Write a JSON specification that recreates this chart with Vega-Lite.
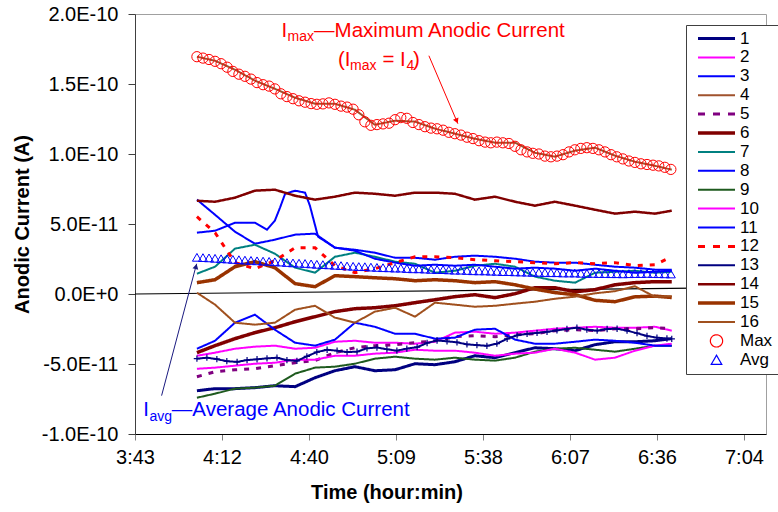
{
"$schema":"https://vega.github.io/schema/vega-lite/v6.json",
"width":631,"height":420,
"autosize":{"type":"none"},
"padding":{"left":135,"top":14,"right":12,"bottom":78},
"background":"#ffffff",
"datasets":{
"main":[
{"s":"1","t":243.7,"c":-69.1},{"s":"1","t":249.7,"c":-67.6},{"s":"1","t":256.3,"c":-67.6},{"s":"1","t":262.9,"c":-66.9},{"s":"1","t":269.5,"c":-65.5},{"s":"1","t":276.2,"c":-66.2},{"s":"1","t":282.8,"c":-59.8},{"s":"1","t":289.4,"c":-54.8},{"s":"1","t":296.0,"c":-51.9},{"s":"1","t":302.6,"c":-54.8},{"s":"1","t":309.3,"c":-54.1},{"s":"1","t":315.9,"c":-49.8},{"s":"1","t":322.5,"c":-50.5},{"s":"1","t":329.1,"c":-48.4},{"s":"1","t":335.7,"c":-44.1},{"s":"1","t":342.4,"c":-45.5},{"s":"1","t":349.0,"c":-41.9},{"s":"1","t":355.6,"c":-38.4},{"s":"1","t":362.2,"c":-39.1},{"s":"1","t":368.9,"c":-40.5},{"s":"1","t":375.5,"c":-36.2},{"s":"1","t":382.1,"c":-34.1},{"s":"1","t":388.7,"c":-34.1},{"s":"1","t":395.3,"c":-33.4},{"s":"1","t":400.9,"c":-31.9},
{"s":"2","t":243.7,"c":-44.1},{"s":"2","t":249.7,"c":-41.9},{"s":"2","t":256.3,"c":-39.1},{"s":"2","t":262.9,"c":-37.6},{"s":"2","t":269.5,"c":-36.9},{"s":"2","t":276.2,"c":-39.1},{"s":"2","t":282.8,"c":-38.4},{"s":"2","t":289.4,"c":-34.1},{"s":"2","t":296.0,"c":-33.4},{"s":"2","t":302.6,"c":-34.8},{"s":"2","t":309.3,"c":-34.8},{"s":"2","t":315.9,"c":-35.5},{"s":"2","t":322.5,"c":-34.1},{"s":"2","t":329.1,"c":-27.6},{"s":"2","t":335.7,"c":-26.9},{"s":"2","t":342.4,"c":-28.4},{"s":"2","t":349.0,"c":-27.6},{"s":"2","t":355.6,"c":-26.2},{"s":"2","t":362.2,"c":-24.8},{"s":"2","t":368.9,"c":-24.1},{"s":"2","t":375.5,"c":-23.4},{"s":"2","t":382.1,"c":-24.1},{"s":"2","t":388.7,"c":-24.1},{"s":"2","t":395.3,"c":-23.4},{"s":"2","t":400.9,"c":-26.2},
{"s":"3","t":243.7,"c":67.4},{"s":"3","t":249.7,"c":56.6},{"s":"3","t":256.3,"c":44.5},{"s":"3","t":262.9,"c":35.9},{"s":"3","t":269.5,"c":38.8},{"s":"3","t":276.2,"c":42.4},{"s":"3","t":282.8,"c":43.1},{"s":"3","t":289.4,"c":33.1},{"s":"3","t":296.0,"c":31.6},{"s":"3","t":302.6,"c":29.5},{"s":"3","t":309.3,"c":25.9},{"s":"3","t":315.9,"c":25.9},{"s":"3","t":322.5,"c":24.5},{"s":"3","t":329.1,"c":26.6},{"s":"3","t":335.7,"c":27.4},{"s":"3","t":342.4,"c":26.6},{"s":"3","t":349.0,"c":25.2},{"s":"3","t":355.6,"c":23.1},{"s":"3","t":362.2,"c":22.4},{"s":"3","t":368.9,"c":22.4},{"s":"3","t":375.5,"c":20.9},{"s":"3","t":382.1,"c":19.5},{"s":"3","t":388.7,"c":18.8},{"s":"3","t":395.3,"c":17.4},{"s":"3","t":400.9,"c":17.4},
{"s":"4","t":243.7,"c":169.5},{"s":"4","t":249.7,"c":166.6},{"s":"4","t":256.3,"c":160.2},{"s":"4","t":262.9,"c":152.4},{"s":"4","t":269.5,"c":146.6},{"s":"4","t":276.2,"c":140.2},{"s":"4","t":282.8,"c":135.9},{"s":"4","t":289.4,"c":135.9},{"s":"4","t":296.0,"c":131.6},{"s":"4","t":302.6,"c":120.9},{"s":"4","t":309.3,"c":123.8},{"s":"4","t":315.9,"c":123.1},{"s":"4","t":322.5,"c":118.1},{"s":"4","t":329.1,"c":114.5},{"s":"4","t":335.7,"c":110.9},{"s":"4","t":342.4,"c":108.1},{"s":"4","t":349.0,"c":108.1},{"s":"4","t":355.6,"c":100.9},{"s":"4","t":362.2,"c":98.1},{"s":"4","t":368.9,"c":102.4},{"s":"4","t":375.5,"c":104.5},{"s":"4","t":382.1,"c":98.8},{"s":"4","t":388.7,"c":94.5},{"s":"4","t":395.3,"c":91.6},{"s":"4","t":400.9,"c":88.8},
{"s":"5","t":243.7,"c":-59.1},{"s":"5","t":249.7,"c":-55.5},{"s":"5","t":256.3,"c":-54.1},{"s":"5","t":262.9,"c":-53.4},{"s":"5","t":269.5,"c":-51.2},{"s":"5","t":276.2,"c":-49.1},{"s":"5","t":282.8,"c":-47.6},{"s":"5","t":289.4,"c":-41.9},{"s":"5","t":296.0,"c":-38.4},{"s":"5","t":302.6,"c":-36.9},{"s":"5","t":309.3,"c":-36.2},{"s":"5","t":315.9,"c":-34.8},{"s":"5","t":322.5,"c":-33.4},{"s":"5","t":329.1,"c":-30.5},{"s":"5","t":335.7,"c":-29.8},{"s":"5","t":342.4,"c":-30.5},{"s":"5","t":349.0,"c":-29.1},{"s":"5","t":355.6,"c":-28.4},{"s":"5","t":362.2,"c":-26.2},{"s":"5","t":368.9,"c":-25.5},{"s":"5","t":375.5,"c":-26.2},{"s":"5","t":382.1,"c":-24.8},{"s":"5","t":388.7,"c":-24.8},{"s":"5","t":395.3,"c":-24.1},{"s":"5","t":400.9,"c":-24.8},
{"s":"6","t":243.7,"c":-41.9},{"s":"6","t":249.7,"c":-36.9},{"s":"6","t":256.3,"c":-31.9},{"s":"6","t":262.9,"c":-27.6},{"s":"6","t":269.5,"c":-24.1},{"s":"6","t":276.2,"c":-19.8},{"s":"6","t":282.8,"c":-16.2},{"s":"6","t":289.4,"c":-12.6},{"s":"6","t":296.0,"c":-10.5},{"s":"6","t":302.6,"c":-9.8},{"s":"6","t":309.3,"c":-8.4},{"s":"6","t":315.9,"c":-6.2},{"s":"6","t":322.5,"c":-4.1},{"s":"6","t":329.1,"c":-1.9},{"s":"6","t":335.7,"c":-0.5},{"s":"6","t":342.4,"c":-2.6},{"s":"6","t":349.0,"c":0.2},{"s":"6","t":355.6,"c":4.5},{"s":"6","t":362.2,"c":4.5},{"s":"6","t":368.9,"c":1.6},{"s":"6","t":375.5,"c":3.1},{"s":"6","t":382.1,"c":6.6},{"s":"6","t":388.7,"c":8.1},{"s":"6","t":395.3,"c":8.8},{"s":"6","t":400.9,"c":8.8},
{"s":"7","t":243.7,"c":14.5},{"s":"7","t":249.7,"c":19.5},{"s":"7","t":256.3,"c":32.4},{"s":"7","t":262.9,"c":35.2},{"s":"7","t":269.5,"c":28.8},{"s":"7","t":276.2,"c":18.8},{"s":"7","t":282.8,"c":15.2},{"s":"7","t":289.4,"c":26.6},{"s":"7","t":296.0,"c":29.5},{"s":"7","t":302.6,"c":26.6},{"s":"7","t":309.3,"c":23.1},{"s":"7","t":315.9,"c":21.6},{"s":"7","t":322.5,"c":15.2},{"s":"7","t":329.1,"c":16.6},{"s":"7","t":335.7,"c":20.2},{"s":"7","t":342.4,"c":21.6},{"s":"7","t":349.0,"c":19.5},{"s":"7","t":355.6,"c":12.4},{"s":"7","t":362.2,"c":9.5},{"s":"7","t":368.9,"c":8.1},{"s":"7","t":375.5,"c":15.2},{"s":"7","t":382.1,"c":15.9},{"s":"7","t":388.7,"c":16.6},{"s":"7","t":395.3,"c":15.2},{"s":"7","t":400.9,"c":15.9},
{"s":"8","t":243.7,"c":43.8},{"s":"8","t":249.7,"c":45.2},{"s":"8","t":256.3,"c":50.9},{"s":"8","t":262.9,"c":50.9},{"s":"8","t":266.9,"c":45.9},{"s":"8","t":269.5,"c":52.4},{"s":"8","t":271.2,"c":61.6},{"s":"8","t":272.9,"c":71.6},{"s":"8","t":276.2,"c":73.8},{"s":"8","t":279.5,"c":72.4},{"s":"8","t":281.1,"c":63.1},{"s":"8","t":283.8,"c":40.9},{"s":"8","t":289.4,"c":33.1},{"s":"8","t":296.0,"c":30.9},{"s":"8","t":302.6,"c":25.2},{"s":"8","t":309.3,"c":22.4},{"s":"8","t":315.9,"c":20.2},{"s":"8","t":322.5,"c":20.9},{"s":"8","t":329.1,"c":20.2},{"s":"8","t":335.7,"c":20.9},{"s":"8","t":342.4,"c":19.5},{"s":"8","t":349.0,"c":18.1},{"s":"8","t":355.6,"c":18.8},{"s":"8","t":362.2,"c":18.1},{"s":"8","t":368.9,"c":16.6},{"s":"8","t":375.5,"c":18.1},{"s":"8","t":382.1,"c":16.6},{"s":"8","t":388.7,"c":15.2},{"s":"8","t":395.3,"c":15.9},{"s":"8","t":400.9,"c":16.6},
{"s":"9","t":243.7,"c":-74.1},{"s":"9","t":249.7,"c":-71.2},{"s":"9","t":256.3,"c":-67.6},{"s":"9","t":262.9,"c":-66.9},{"s":"9","t":269.5,"c":-65.5},{"s":"9","t":276.2,"c":-56.9},{"s":"9","t":282.8,"c":-52.6},{"s":"9","t":289.4,"c":-51.9},{"s":"9","t":296.0,"c":-49.8},{"s":"9","t":302.6,"c":-46.2},{"s":"9","t":309.3,"c":-44.8},{"s":"9","t":315.9,"c":-46.2},{"s":"9","t":322.5,"c":-46.9},{"s":"9","t":329.1,"c":-45.5},{"s":"9","t":335.7,"c":-46.9},{"s":"9","t":342.4,"c":-47.6},{"s":"9","t":349.0,"c":-45.5},{"s":"9","t":355.6,"c":-41.2},{"s":"9","t":362.2,"c":-39.1},{"s":"9","t":368.9,"c":-38.4},{"s":"9","t":375.5,"c":-39.8},{"s":"9","t":382.1,"c":-41.2},{"s":"9","t":388.7,"c":-39.1},{"s":"9","t":395.3,"c":-36.9},{"s":"9","t":400.9,"c":-36.9},
{"s":"10","t":243.7,"c":-53.4},{"s":"10","t":249.7,"c":-52.6},{"s":"10","t":256.3,"c":-51.2},{"s":"10","t":262.9,"c":-49.8},{"s":"10","t":269.5,"c":-49.1},{"s":"10","t":276.2,"c":-46.9},{"s":"10","t":282.8,"c":-46.9},{"s":"10","t":289.4,"c":-44.1},{"s":"10","t":296.0,"c":-44.1},{"s":"10","t":302.6,"c":-42.6},{"s":"10","t":309.3,"c":-41.9},{"s":"10","t":315.9,"c":-39.8},{"s":"10","t":322.5,"c":-40.5},{"s":"10","t":329.1,"c":-40.5},{"s":"10","t":335.7,"c":-41.9},{"s":"10","t":342.4,"c":-44.1},{"s":"10","t":349.0,"c":-42.6},{"s":"10","t":355.6,"c":-41.9},{"s":"10","t":362.2,"c":-39.1},{"s":"10","t":368.9,"c":-41.9},{"s":"10","t":375.5,"c":-46.9},{"s":"10","t":382.1,"c":-45.5},{"s":"10","t":388.7,"c":-40.5},{"s":"10","t":395.3,"c":-36.9},{"s":"10","t":400.9,"c":-35.5},
{"s":"11","t":243.7,"c":-39.1},{"s":"11","t":249.7,"c":-33.4},{"s":"11","t":256.3,"c":-20.5},{"s":"11","t":262.9,"c":-14.8},{"s":"11","t":269.5,"c":-25.5},{"s":"11","t":276.2,"c":-34.8},{"s":"11","t":282.8,"c":-36.9},{"s":"11","t":289.4,"c":-32.6},{"s":"11","t":296.0,"c":-20.5},{"s":"11","t":302.6,"c":-23.4},{"s":"11","t":309.3,"c":-28.4},{"s":"11","t":315.9,"c":-28.4},{"s":"11","t":322.5,"c":-31.9},{"s":"11","t":329.1,"c":-31.2},{"s":"11","t":335.7,"c":-25.5},{"s":"11","t":342.4,"c":-24.8},{"s":"11","t":349.0,"c":-32.6},{"s":"11","t":355.6,"c":-35.5},{"s":"11","t":362.2,"c":-35.5},{"s":"11","t":368.9,"c":-34.1},{"s":"11","t":375.5,"c":-32.6},{"s":"11","t":382.1,"c":-33.4},{"s":"11","t":388.7,"c":-34.8},{"s":"11","t":395.3,"c":-36.9},{"s":"11","t":400.9,"c":-36.9},
{"s":"12","t":243.7,"c":55.2},{"s":"12","t":249.7,"c":43.8},{"s":"12","t":256.3,"c":22.4},{"s":"12","t":262.9,"c":18.1},{"s":"12","t":269.5,"c":23.8},{"s":"12","t":276.2,"c":33.1},{"s":"12","t":282.8,"c":33.1},{"s":"12","t":289.4,"c":20.2},{"s":"12","t":296.0,"c":15.2},{"s":"12","t":302.6,"c":18.1},{"s":"12","t":309.3,"c":22.4},{"s":"12","t":315.9,"c":26.6},{"s":"12","t":322.5,"c":26.6},{"s":"12","t":329.1,"c":25.9},{"s":"12","t":335.7,"c":24.5},{"s":"12","t":342.4,"c":23.8},{"s":"12","t":349.0,"c":23.1},{"s":"12","t":355.6,"c":22.4},{"s":"12","t":362.2,"c":21.6},{"s":"12","t":368.9,"c":22.4},{"s":"12","t":375.5,"c":21.6},{"s":"12","t":382.1,"c":22.4},{"s":"12","t":388.7,"c":20.2},{"s":"12","t":395.3,"c":20.9},{"s":"12","t":400.9,"c":26.6},
{"s":"13","t":243.7,"c":-46.2},{"s":"13","t":247.0,"c":-45.5},{"s":"13","t":250.3,"c":-46.5},{"s":"13","t":253.6,"c":-48.0},{"s":"13","t":257.0,"c":-48.5},{"s":"13","t":260.3,"c":-47.2},{"s":"13","t":263.6,"c":-46.6},{"s":"13","t":266.9,"c":-46.0},{"s":"13","t":270.2,"c":-45.5},{"s":"13","t":273.5,"c":-47.2},{"s":"13","t":276.8,"c":-47.8},{"s":"13","t":280.1,"c":-44.5},{"s":"13","t":283.4,"c":-41.5},{"s":"13","t":286.8,"c":-39.8},{"s":"13","t":290.1,"c":-40.5},{"s":"13","t":293.4,"c":-41.5},{"s":"13","t":296.7,"c":-41.2},{"s":"13","t":300.0,"c":-38.8},{"s":"13","t":303.3,"c":-38.2},{"s":"13","t":306.6,"c":-39.5},{"s":"13","t":309.9,"c":-40.5},{"s":"13","t":313.2,"c":-39.0},{"s":"13","t":316.6,"c":-38.0},{"s":"13","t":319.9,"c":-35.0},{"s":"13","t":323.2,"c":-33.2},{"s":"13","t":326.5,"c":-33.8},{"s":"13","t":329.8,"c":-34.5},{"s":"13","t":333.1,"c":-36.0},{"s":"13","t":336.4,"c":-36.5},{"s":"13","t":339.7,"c":-37.0},{"s":"13","t":343.0,"c":-35.5},{"s":"13","t":346.4,"c":-32.0},{"s":"13","t":349.7,"c":-29.5},{"s":"13","t":353.0,"c":-28.5},{"s":"13","t":356.3,"c":-27.8},{"s":"13","t":359.6,"c":-27.0},{"s":"13","t":362.9,"c":-26.0},{"s":"13","t":366.2,"c":-25.0},{"s":"13","t":369.5,"c":-24.0},{"s":"13","t":372.8,"c":-25.5},{"s":"13","t":376.2,"c":-26.2},{"s":"13","t":379.5,"c":-25.0},{"s":"13","t":382.8,"c":-24.8},{"s":"13","t":386.1,"c":-26.2},{"s":"13","t":389.4,"c":-28.0},{"s":"13","t":392.7,"c":-30.0},{"s":"13","t":396.0,"c":-31.2},{"s":"13","t":399.3,"c":-31.8},{"s":"13","t":400.9,"c":-32.0},
{"s":"14","t":243.7,"c":66.6},{"s":"14","t":249.7,"c":65.9},{"s":"14","t":256.3,"c":68.8},{"s":"14","t":262.9,"c":73.8},{"s":"14","t":269.5,"c":74.5},{"s":"14","t":276.2,"c":70.2},{"s":"14","t":282.8,"c":67.4},{"s":"14","t":289.4,"c":69.5},{"s":"14","t":296.0,"c":72.4},{"s":"14","t":302.6,"c":71.6},{"s":"14","t":309.3,"c":70.2},{"s":"14","t":315.9,"c":72.4},{"s":"14","t":322.5,"c":72.4},{"s":"14","t":329.1,"c":71.6},{"s":"14","t":335.7,"c":67.4},{"s":"14","t":342.4,"c":69.5},{"s":"14","t":349.0,"c":65.9},{"s":"14","t":355.6,"c":63.1},{"s":"14","t":362.2,"c":65.9},{"s":"14","t":368.9,"c":63.1},{"s":"14","t":375.5,"c":60.2},{"s":"14","t":382.1,"c":57.4},{"s":"14","t":388.7,"c":58.8},{"s":"14","t":395.3,"c":57.4},{"s":"14","t":400.9,"c":59.5},
{"s":"15","t":243.7,"c":8.1},{"s":"15","t":249.7,"c":10.2},{"s":"15","t":256.3,"c":19.5},{"s":"15","t":262.9,"c":23.1},{"s":"15","t":269.5,"c":18.8},{"s":"15","t":276.2,"c":7.4},{"s":"15","t":282.8,"c":5.2},{"s":"15","t":289.4,"c":13.1},{"s":"15","t":296.0,"c":12.4},{"s":"15","t":302.6,"c":11.6},{"s":"15","t":309.3,"c":10.9},{"s":"15","t":315.9,"c":9.5},{"s":"15","t":322.5,"c":10.2},{"s":"15","t":329.1,"c":9.5},{"s":"15","t":335.7,"c":8.1},{"s":"15","t":342.4,"c":8.8},{"s":"15","t":349.0,"c":6.6},{"s":"15","t":355.6,"c":3.5},{"s":"15","t":362.2,"c":1.0},{"s":"15","t":368.9,"c":-0.5},{"s":"15","t":375.5,"c":-4.5},{"s":"15","t":382.1,"c":-5.5},{"s":"15","t":388.7,"c":-2.0},{"s":"15","t":395.3,"c":-1.5},{"s":"15","t":400.9,"c":-2.5},
{"s":"16","t":243.7,"c":0.9},{"s":"16","t":249.7,"c":-7.6},{"s":"16","t":256.3,"c":-20.5},{"s":"16","t":262.9,"c":-21.9},{"s":"16","t":269.5,"c":-20.5},{"s":"16","t":276.2,"c":-11.2},{"s":"16","t":282.8,"c":-8.4},{"s":"16","t":289.4,"c":-16.9},{"s":"16","t":296.0,"c":-20.5},{"s":"16","t":302.6,"c":-12.6},{"s":"16","t":309.3,"c":-9.8},{"s":"16","t":315.9,"c":-16.2},{"s":"16","t":322.5,"c":-6.2},{"s":"16","t":329.1,"c":-7.6},{"s":"16","t":335.7,"c":-9.1},{"s":"16","t":342.4,"c":-8.4},{"s":"16","t":349.0,"c":-6.9},{"s":"16","t":355.6,"c":-5.5},{"s":"16","t":362.2,"c":-3.4},{"s":"16","t":368.9,"c":-1.9},{"s":"16","t":375.5,"c":0.5},{"s":"16","t":382.1,"c":2.0},{"s":"16","t":388.7,"c":5.5},{"s":"16","t":395.3,"c":-2.0},{"s":"16","t":400.9,"c":-1.5},
{"s":"Max","t":243.7,"c":169.5},{"s":"Max","t":245.7,"c":168.5},{"s":"Max","t":247.7,"c":167.5},{"s":"Max","t":249.7,"c":166.2},{"s":"Max","t":251.7,"c":164.5},{"s":"Max","t":253.7,"c":162.0},{"s":"Max","t":255.6,"c":159.0},{"s":"Max","t":257.6,"c":157.0},{"s":"Max","t":259.6,"c":155.5},{"s":"Max","t":261.6,"c":153.5},
{"s":"Max","t":263.6,"c":151.0},{"s":"Max","t":265.6,"c":149.5},{"s":"Max","t":267.6,"c":148.5},{"s":"Max","t":269.5,"c":146.5},{"s":"Max","t":271.5,"c":143.0},{"s":"Max","t":273.5,"c":141.0},{"s":"Max","t":275.5,"c":139.5},{"s":"Max","t":277.5,"c":138.0},{"s":"Max","t":279.5,"c":137.0},{"s":"Max","t":281.5,"c":136.0},
{"s":"Max","t":283.4,"c":135.5},{"s":"Max","t":285.4,"c":135.8},{"s":"Max","t":287.4,"c":136.5},{"s":"Max","t":289.4,"c":135.5},{"s":"Max","t":291.4,"c":134.2},{"s":"Max","t":293.4,"c":133.5},{"s":"Max","t":295.4,"c":132.0},{"s":"Max","t":297.3,"c":128.0},{"s":"Max","t":299.3,"c":123.0},{"s":"Max","t":301.3,"c":120.5},
{"s":"Max","t":303.3,"c":121.0},{"s":"Max","t":305.3,"c":121.5},{"s":"Max","t":307.3,"c":122.0},{"s":"Max","t":309.3,"c":124.5},{"s":"Max","t":311.2,"c":126.0},{"s":"Max","t":313.2,"c":125.5},{"s":"Max","t":315.2,"c":122.5},{"s":"Max","t":317.2,"c":121.0},{"s":"Max","t":319.2,"c":119.5},{"s":"Max","t":321.2,"c":118.5},
{"s":"Max","t":323.2,"c":118.0},{"s":"Max","t":325.2,"c":117.0},{"s":"Max","t":327.1,"c":115.5},{"s":"Max","t":329.1,"c":114.5},{"s":"Max","t":331.1,"c":113.5},{"s":"Max","t":333.1,"c":112.0},{"s":"Max","t":335.1,"c":111.0},{"s":"Max","t":337.1,"c":109.5},{"s":"Max","t":339.1,"c":108.5},{"s":"Max","t":341.0,"c":108.0},
{"s":"Max","t":343.0,"c":108.5},{"s":"Max","t":345.0,"c":108.0},{"s":"Max","t":347.0,"c":107.5},{"s":"Max","t":349.0,"c":105.5},{"s":"Max","t":351.0,"c":103.0},{"s":"Max","t":353.0,"c":101.5},{"s":"Max","t":354.9,"c":100.5},{"s":"Max","t":356.9,"c":100.0},{"s":"Max","t":358.9,"c":98.5},{"s":"Max","t":360.9,"c":98.0},
{"s":"Max","t":362.9,"c":98.5},{"s":"Max","t":364.9,"c":99.5},{"s":"Max","t":366.9,"c":101.5},{"s":"Max","t":368.8,"c":103.0},{"s":"Max","t":370.8,"c":104.0},{"s":"Max","t":372.8,"c":104.5},{"s":"Max","t":374.8,"c":104.0},{"s":"Max","t":376.8,"c":103.0},{"s":"Max","t":378.8,"c":101.5},{"s":"Max","t":380.8,"c":99.5},
{"s":"Max","t":382.7,"c":98.0},{"s":"Max","t":384.7,"c":96.5},{"s":"Max","t":386.7,"c":95.0},{"s":"Max","t":388.7,"c":94.0},{"s":"Max","t":390.7,"c":93.0},{"s":"Max","t":392.7,"c":92.5},{"s":"Max","t":394.7,"c":92.0},{"s":"Max","t":396.6,"c":91.5},{"s":"Max","t":398.6,"c":90.5},{"s":"Max","t":400.6,"c":89.0},
{"s":"Avg","t":243.7,"c":26.2},{"s":"Avg","t":245.7,"c":26.0},{"s":"Avg","t":247.7,"c":25.8},{"s":"Avg","t":249.7,"c":25.5},{"s":"Avg","t":251.7,"c":25.2},{"s":"Avg","t":253.7,"c":25.0},{"s":"Avg","t":255.6,"c":24.7},{"s":"Avg","t":257.6,"c":24.5},{"s":"Avg","t":259.6,"c":24.2},{"s":"Avg","t":261.6,"c":24.0},
{"s":"Avg","t":263.6,"c":23.7},{"s":"Avg","t":265.6,"c":23.5},{"s":"Avg","t":267.6,"c":23.3},{"s":"Avg","t":269.5,"c":23.0},{"s":"Avg","t":271.5,"c":22.8},{"s":"Avg","t":273.5,"c":22.5},{"s":"Avg","t":275.5,"c":22.2},{"s":"Avg","t":277.5,"c":22.0},{"s":"Avg","t":279.5,"c":21.8},{"s":"Avg","t":281.5,"c":21.5},
{"s":"Avg","t":283.4,"c":21.2},{"s":"Avg","t":285.4,"c":21.0},{"s":"Avg","t":287.4,"c":20.8},{"s":"Avg","t":289.4,"c":20.5},{"s":"Avg","t":291.4,"c":20.3},{"s":"Avg","t":293.4,"c":20.0},{"s":"Avg","t":295.4,"c":19.8},{"s":"Avg","t":297.3,"c":19.6},{"s":"Avg","t":299.3,"c":19.5},{"s":"Avg","t":301.3,"c":19.2},
{"s":"Avg","t":303.3,"c":19.0},{"s":"Avg","t":305.3,"c":18.8},{"s":"Avg","t":307.3,"c":18.7},{"s":"Avg","t":309.3,"c":18.5},{"s":"Avg","t":311.2,"c":18.5},{"s":"Avg","t":313.2,"c":18.2},{"s":"Avg","t":315.2,"c":18.0},{"s":"Avg","t":317.2,"c":18.0},{"s":"Avg","t":319.2,"c":17.8},{"s":"Avg","t":321.2,"c":17.6},
{"s":"Avg","t":323.2,"c":17.5},{"s":"Avg","t":325.2,"c":17.4},{"s":"Avg","t":327.1,"c":17.2},{"s":"Avg","t":329.1,"c":17.0},{"s":"Avg","t":331.1,"c":17.0},{"s":"Avg","t":333.1,"c":16.8},{"s":"Avg","t":335.1,"c":16.6},{"s":"Avg","t":337.1,"c":16.5},{"s":"Avg","t":339.1,"c":16.5},{"s":"Avg","t":341.0,"c":16.3},
{"s":"Avg","t":343.0,"c":16.2},{"s":"Avg","t":345.0,"c":16.0},{"s":"Avg","t":347.0,"c":16.0},{"s":"Avg","t":349.0,"c":15.8},{"s":"Avg","t":351.0,"c":15.7},{"s":"Avg","t":353.0,"c":15.6},{"s":"Avg","t":354.9,"c":15.5},{"s":"Avg","t":356.9,"c":15.5},{"s":"Avg","t":358.9,"c":15.3},{"s":"Avg","t":360.9,"c":15.2},
{"s":"Avg","t":362.9,"c":15.2},{"s":"Avg","t":364.9,"c":15.0},{"s":"Avg","t":366.9,"c":15.0},{"s":"Avg","t":368.8,"c":15.0},{"s":"Avg","t":370.8,"c":14.8},{"s":"Avg","t":372.8,"c":14.7},{"s":"Avg","t":374.8,"c":14.7},{"s":"Avg","t":376.8,"c":14.6},{"s":"Avg","t":378.8,"c":14.6},{"s":"Avg","t":380.8,"c":14.5},
{"s":"Avg","t":382.7,"c":14.5},{"s":"Avg","t":384.7,"c":14.4},{"s":"Avg","t":386.7,"c":14.5},{"s":"Avg","t":388.7,"c":14.6},{"s":"Avg","t":390.7,"c":14.6},{"s":"Avg","t":392.7,"c":14.7},{"s":"Avg","t":394.7,"c":14.6},{"s":"Avg","t":396.6,"c":14.5},{"s":"Avg","t":398.6,"c":14.4},{"s":"Avg","t":400.6,"c":14.3}
],
"zero":[{"t":223.2,"c":0,"t2":432.1,"c2":4.7}],
"arrows":[{"a":"max","t":320.5,"c":170.2,"t2":330.1,"c2":121.6},{"a":"avg","t":232.0,"c":-72.6,"t2":243.6,"c2":21.6}],
"heads":[{"a":"max","t":329.7,"c":123.6},{"a":"avg","t":243.4,"c":19.6}],
"ann":[
{"part":"redMain","txt":"I","t":271.7,"c":183.3},
{"part":"redSub","txt":"max","t":273.7,"c":180.6},
{"part":"redMain","txt":"—Maximum Anodic Current","t":282.5,"c":183.3},
{"part":"redMain","txt":"(I","t":290.4,"c":162.7},
{"part":"redSub","txt":"max","t":294.4,"c":159.9},
{"part":"redMain","txt":"= I","t":305.1,"c":162.7},
{"part":"redSub","txt":"4","t":313.1,"c":159.9},
{"part":"redMain","txt":")","t":315.2,"c":162.7},
{"part":"blueMain","txt":"I","t":225.9,"c":-86.9},
{"part":"blueSub","txt":"avg","t":228.0,"c":-90.9},
{"part":"blueMain","txt":"—Average Anodic Current","t":235.4,"c":-86.9}
]
},
"data":{"name":"main"},
"encoding":{
"x":{"field":"t","type":"quantitative","scale":{"domain":[223.2,432.1],"nice":false,"zero":false},
"axis":{"title":"Time (hour:min)","values":[223.2,252,280.8,309.6,338.4,367.2,396,424.8],
"labelExpr":"floor(datum.value/60) + ':' + (floor(datum.value%60+0.001) < 10 ? '0' : '') + floor(datum.value%60+0.001)",
"labelFlush":false,"labelOverlap":false,"tickSize":6,"tickColor":"#808080","domainColor":"#000000","domainWidth":1,
"labelPadding":23,"labelBaseline":"alphabetic","titleX":251.5,"titleY":64,"titleBaseline":"alphabetic","titleAlign":"center","titleAnchor":null}},
"y":{"field":"c","type":"quantitative","scale":{"domain":[-100,200],"nice":false,"zero":false},
"axis":{"title":"Anodic Current (A)","values":[-100,-50,0,50,100,150,200],
"labelExpr":"upper(replace(format(datum.value*1e-12,'.1e'),'−','-'))",
"tickSize":7,"tickColor":"#404040","domainColor":"#404040","domainWidth":1,"labelPadding":10,
"titleX":-106.5,"titleY":210,"titleBaseline":"alphabetic","titleAlign":"center","titleAngle":-90,"titleAnchor":null}}
},
"layer":[
{"data":{"name":"zero"},"mark":{"type":"rule","color":"#000000","strokeWidth":1.2},
 "encoding":{"x2":{"field":"t2"},"y2":{"field":"c2"}}},
{"transform":[{"filter":"datum.s !== 'Max' && datum.s !== 'Avg'"}],
 "mark":{"type":"line","interpolate":"linear"},
 "encoding":{
  "color":{"field":"s","type":"nominal",
   "scale":{"domain":["1","2","3","4","5","6","7","8","9","10","11","12","13","14","15","16","Max","Avg"],
    "range":["#000080","#FF00FF","#0000FF","#A0522D","#800080","#800000","#008080","#0000FF","#1E5A1E","#FF00FF","#0000FF","#FF0000","#000080","#800000","#993300","#A0501E","#FF0000","#0000FF"]},
   "legend":{"title":null,"orient":"none","legendX":551,"legendY":11,"padding":5,"symbolOffset":17,"labelOffset":15,
    "symbolSize":1369,"symbolStrokeWidth":1.5,"rowPadding":0.9,"clipHeight":17,"labelFontSize":17,"labelFont":"Liberation Sans",
    "labelColor":"#000000","strokeColor":"#404040","fillColor":"#ffffff","zindex":1,"symbolType":"stroke",
    "labelExpr":"datum.label + ' '",
    "encode":{"symbols":{"update":{
      "shape":{"signal":"datum.value==='Max'?'circle':datum.value==='Avg'?'triangle-up':'stroke'"},
      "size":{"signal":"datum.value==='Max'?150:datum.value==='Avg'?110:1369"},
      "stroke":{"scale":"color","field":"value"},
      "fill":{"value":"transparent"},
      "opacity":{"value":1},
      "strokeWidth":{"signal":"datum.value==='1'?3:(datum.value==='6'||datum.value==='15')?3.5:datum.value==='14'?2.5:(datum.value==='5'||datum.value==='12')?3:(datum.value==='Max'||datum.value==='Avg')?1.2:2"},
      "strokeDash":{"signal":"(datum.value==='5'||datum.value==='12')?[7,8]:[1,0]"}
    }}}}},
  "strokeWidth":{"condition":[{"test":"datum.s==='1'","value":3},{"test":"datum.s==='6'||datum.s==='15'","value":3.5},{"test":"datum.s==='14'","value":2.5},{"test":"datum.s==='5'||datum.s==='12'","value":3}],"value":2},
  "strokeDash":{"condition":{"test":"datum.s==='5'||datum.s==='12'","value":[5,7]},"value":[1,0]}
 }},
{"transform":[{"filter":"datum.s === '13'"}],
 "mark":{"type":"point","shape":"M0,-1L0,1M-1,0L1,0","filled":false,"color":"#000080","strokeWidth":1.2,"size":40,"opacity":1}},
{"transform":[{"filter":"datum.s === 'Max' || datum.s === 'Avg'"}],
 "mark":{"type":"point","filled":false,"strokeWidth":1,"opacity":1},
 "encoding":{
  "color":{"field":"s","type":"nominal",
   "scale":{"domain":["1","2","3","4","5","6","7","8","9","10","11","12","13","14","15","16","Max","Avg"],
    "range":["#000080","#FF00FF","#0000FF","#A0522D","#800080","#800000","#008080","#0000FF","#1E5A1E","#FF00FF","#0000FF","#FF0000","#000080","#800000","#993300","#A0501E","#FF0000","#0000FF"]}},
  "shape":{"field":"s","type":"nominal","scale":{"domain":["Max","Avg"],"range":["circle","triangle-up"]},"legend":null},
  "size":{"condition":{"test":"datum.s==='Max'","value":105},"value":80}
 }},
{"data":{"name":"arrows"},"transform":[{"filter":"datum.a==='max'"}],"mark":{"type":"rule","color":"#FF0000","strokeWidth":1},
 "encoding":{"x2":{"field":"t2"},"y2":{"field":"c2"}}},
{"data":{"name":"arrows"},"transform":[{"filter":"datum.a==='avg'"}],"mark":{"type":"rule","color":"#1A1A80","strokeWidth":1},
 "encoding":{"x2":{"field":"t2"},"y2":{"field":"c2"}}},
{"data":{"name":"heads"},"transform":[{"filter":"datum.a==='max'"}],"mark":{"type":"point","shape":"triangle-up","filled":true,"color":"#FF0000","size":35,"angle":157,"opacity":1}},
{"data":{"name":"heads"},"transform":[{"filter":"datum.a==='avg'"}],"mark":{"type":"point","shape":"triangle-up","filled":true,"color":"#1A1A80","size":35,"angle":15,"opacity":1}},
{"data":{"name":"ann"},"transform":[{"filter":"datum.part==='redMain'"}],"mark":{"type":"text","align":"left","baseline":"alphabetic","font":"Liberation Sans","fontSize":20.5,"color":"#FF0000"},"encoding":{"text":{"field":"txt"}}},
{"data":{"name":"ann"},"transform":[{"filter":"datum.part==='redSub'"}],"mark":{"type":"text","align":"left","baseline":"alphabetic","font":"Liberation Sans","fontSize":14,"color":"#FF0000"},"encoding":{"text":{"field":"txt"}}},
{"data":{"name":"ann"},"transform":[{"filter":"datum.part==='blueMain'"}],"mark":{"type":"text","align":"left","baseline":"alphabetic","font":"Liberation Sans","fontSize":20.5,"color":"#0000FF"},"encoding":{"text":{"field":"txt"}}},
{"data":{"name":"ann"},"transform":[{"filter":"datum.part==='blueSub'"}],"mark":{"type":"text","align":"left","baseline":"alphabetic","font":"Liberation Sans","fontSize":14,"color":"#0000FF"},"encoding":{"text":{"field":"txt"}}}
],
"config":{
"font":"Liberation Sans",
"view":{"stroke":"#a0a0a0","strokeWidth":1},
"axis":{"grid":false,"labelFont":"Liberation Sans","labelFontSize":20,"labelColor":"#000000","titleFont":"Liberation Sans","titleFontSize":20,"titleFontWeight":"bold","titleColor":"#000000"}
}
}
